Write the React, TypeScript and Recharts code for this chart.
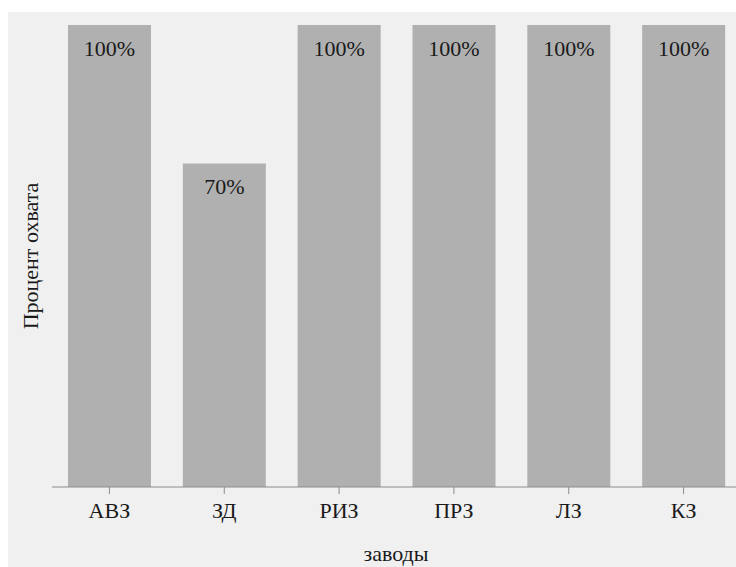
import React from 'react';
import { Bar, BarChart, LabelList, XAxis, YAxis } from 'recharts';

const plants = ['АВЗ', 'ЗД', 'РИЗ', 'ПРЗ', 'ЛЗ', 'КЗ'];
const coverage = [100, 70, 100, 100, 100, 100];

const data = plants.map((name, i) => ({ name, coverage: coverage[i] }));

const font = '"Liberation Serif", "Times New Roman", serif';
const ink = '#1a1a1a';

const PlantTick = (props: any) => {
  const { x, y, payload } = props;
  return (
    <text x={x} y={y + 16} textAnchor="middle" dominantBaseline="central" fill={ink} fontSize={22} style={{ fontFamily: font }}>
      {payload.value}
    </text>
  );
};

const App: React.FC = () => (
  <div
    style={{
      position: 'fixed',
      left: 8,
      top: 12,
      width: 728,
      height: 555,
      overflow: 'hidden',
      background: '#f0f0f0',
      fontFamily: font,
    }}
  >
    <BarChart
      width={733}
      height={555}
      data={data}
      margin={{ top: 13, right: 0, bottom: 0, left: 0 }}
      barSize={83}
      style={{ fontFamily: font }}
    >
      <XAxis
        dataKey="name"
        height={80}
        stroke="#8c8c8c"
        tickSize={7}
        tickMargin={0}
        tick={<PlantTick />}
        label={{
          content: () => (
            <text x={388} y={549} textAnchor="middle" fill={ink} fontSize={22} style={{ fontFamily: font }}>
              заводы
            </text>
          ),
        }}
      />
      <YAxis
        domain={[0, 100]}
        width={44}
        axisLine={false}
        tickLine={false}
        tick={false}
        label={{
          content: () => (
            <text
              x={22}
              y={244}
              transform="rotate(-90 22 244)"
              textAnchor="middle"
              dominantBaseline="central"
              fill={ink}
              fontSize={22}
              style={{ fontFamily: font }}
            >
              Процент охвата
            </text>
          ),
        }}
      />
      <Bar dataKey="coverage" fill="#b0b0b0" isAnimationActive={false}>
        <LabelList
          dataKey="coverage"
          content={(p: any) => (
            <text
              x={p.x + p.width / 2}
              y={p.y + 23}
              textAnchor="middle"
              dominantBaseline="central"
              fill={ink}
              fontSize={22}
              style={{ fontFamily: font }}
            >
              {`${p.value}%`}
            </text>
          )}
        />
      </Bar>
    </BarChart>
  </div>
);

export default App;
